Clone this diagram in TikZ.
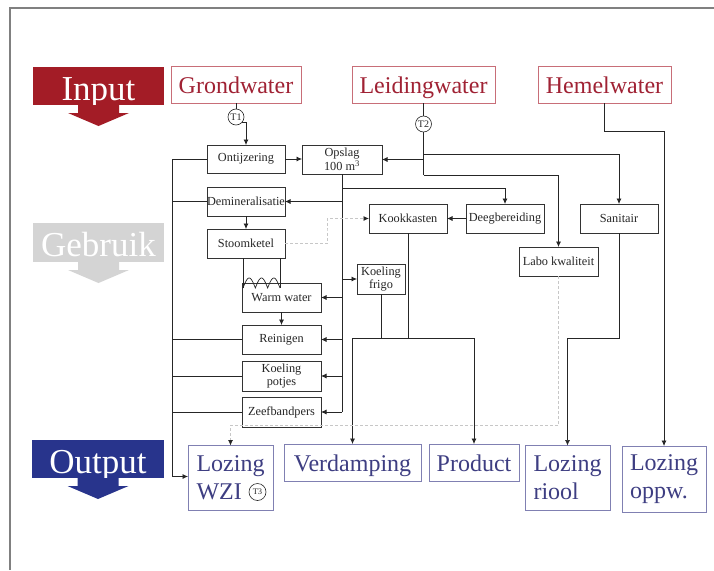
\documentclass[tikz,border=0pt]{standalone}
\usepackage{fontspec}
\setmainfont{Liberation Serif}
\usetikzlibrary{arrows.meta}

\definecolor{inred}{RGB}{163,28,38}
\definecolor{intext}{RGB}{160,34,52}
\definecolor{inborder}{RGB}{200,110,120}
\definecolor{usegrey}{RGB}{212,212,212}
\definecolor{outblue}{RGB}{40,52,140}
\definecolor{outtext}{RGB}{62,62,130}
\definecolor{outborder}{RGB}{128,128,178}
\definecolor{framegrey}{RGB}{128,128,128}

\tikzset{
  proc/.style={draw=black!80, line width=0.7pt, inner sep=0pt, outer sep=0pt,
    align=center, text=black!85, font=\fontsize{12.3}{13.5}\selectfont},
  inbox/.style={draw=inborder, line width=0.9pt, inner sep=0pt, outer sep=0pt,
    text=intext, font=\fontsize{24}{28}\selectfont,
    text height=18pt, text depth=1pt},
  outbox/.style={draw=outborder, line width=0.9pt, inner sep=0pt, outer sep=0pt,
    text=outtext, font=\fontsize{24}{28}\selectfont},
  onerow/.style={text height=18pt, text depth=1pt},
  banner/.style={inner sep=0pt, outer sep=0pt, text=white,
    font=\fontsize{35}{40}\selectfont, text height=30pt, text depth=2pt},
  flow/.style={draw=black!85, line width=0.7pt},
  arr/.style={flow, -{Latex[length=5.5pt,width=5pt]}},
  dsh/.style={draw=black!22, line width=0.8pt, dash pattern=on 3pt off 2pt,
    -{Latex[length=5.5pt,width=5pt,black!85]}},
  tag/.style={circle, draw=black!85, line width=0.6pt, inner sep=0pt,
    minimum size=16pt, text=black!85, font=\fontsize{10}{10}\selectfont},
  downarrow/.pic={\fill[#1] (-20.5,0) -- (20.5,0) -- (20.5,8) -- (30.5,8)
    -- (0,21) -- (-30.5,8) -- (-20.5,8) -- cycle;}
}

\begin{document}
\begin{tikzpicture}[x=1pt,y=-1pt]
\useasboundingbox (0,0) rectangle (714,570);
\fill[white] (0,0) rectangle (714,570);
\draw[framegrey, line width=1.2pt] (10,570) -- (10,8) -- (714,8);

% side banners
\node[banner, fill=inred, minimum width=131pt, minimum height=38pt] (bin) at (98.5,86) {Input};
\pic at (98.5,105) {downarrow=inred};
\node[banner, fill=usegrey, minimum width=131pt, minimum height=39pt] (buse) at (98.5,242.5) {Gebruik};
\pic at (98.5,262) {downarrow=usegrey};
\node[banner, fill=outblue, minimum width=132pt, minimum height=38pt] (bout) at (98,459) {Output};
\pic at (98,478) {downarrow=outblue};

% sources
\node[inbox, minimum width=130pt, minimum height=37pt] (grond) at (236,84.5) {Grondwater};
\node[inbox, minimum width=143pt, minimum height=37pt] (leid) at (423.5,84.5) {Leidingwater};
\node[inbox, minimum width=133pt, minimum height=37pt] (hemel) at (604.5,84.5) {Hemelwater};

% sampling points
\node[tag] (t1) at (236,117) {T1};
\node[tag] (t2) at (423.5,124) {T2};

% process steps
\node[proc, minimum width=78pt, minimum height=28pt] (ontij) at (246,159) {Ontijzering};
\node[proc, minimum width=80pt, minimum height=29pt] (opslag) at (342,159.5) {Opslag\\100 m\textsuperscript{3}};
\node[proc, minimum width=78pt, minimum height=29pt] (demin) at (246,201.5) {Demineralisatie};
\node[proc, minimum width=78pt, minimum height=29pt] (stoom) at (246,243.5) {Stoomketel};
\node[proc, minimum width=79pt, minimum height=29pt] (warm) at (281.5,297.5) {Warm water};
\node[proc, minimum width=79pt, minimum height=29pt] (reinig) at (281.5,339.5) {Reinigen};
\node[proc, minimum width=79pt, minimum height=30pt] (koelpot) at (281.5,376) {Koeling\\potjes};
\node[proc, minimum width=79pt, minimum height=30pt] (zeef) at (281.5,412) {Zeefbandpers};
\node[proc, minimum width=48pt, minimum height=30pt] (koelfrigo) at (381,279) {Koeling\\frigo};
\node[proc, minimum width=78pt, minimum height=29pt] (kook) at (408,218.5) {Kookkasten};
\node[proc, minimum width=78pt, minimum height=29pt] (deeg) at (505,218.5) {Deegbereiding};
\node[proc, minimum width=78pt, minimum height=29pt] (sanit) at (619,218.5) {Sanitair};
\node[proc, minimum width=79pt, minimum height=29pt] (labo) at (558.5,261.5) {Labo kwaliteit};

% destinations
\node[outbox, minimum width=85pt, minimum height=65pt, align=left] (wzi) at (230.5,478) {Lozing\\WZI\hspace{26pt}};
\node[tag, minimum size=17pt, font=\fontsize{8.5}{9}\selectfont] (t3) at (257.5,492) {T3};
\node[outbox, onerow, minimum width=137pt, minimum height=37pt] (verd) at (352.5,462.5) {Verdamping};
\node[outbox, onerow, minimum width=90pt, minimum height=37pt] (prod) at (474,462.5) {Product};
\node[outbox, minimum width=85pt, minimum height=65pt, align=left] (riool) at (567.5,478) {Lozing\\riool\hspace{29pt}};
\node[outbox, minimum width=84pt, minimum height=66pt, align=left] (oppw) at (664,479) {Lozing\\oppw.\hspace{14pt}};

% junctions
\coordinate (colL) at (172,159);
\coordinate (colLb) at (172,476.5);
\coordinate (jdeeg) at (342,188);
\coordinate (jt2s) at (423.5,154);
\coordinate (jt2a) at (423.5,159.5);
\coordinate (jt2b) at (423.5,175);
\coordinate (jh) at (664,131);
\coordinate (jsr) at (567.5,338);
\coordinate (jkL) at (352.5,338);
\coordinate (jkR) at (474,338);
\coordinate (dj) at (327,230);
\coordinate (jw) at (230.5,425);
\coordinate (coilL) at (243,288);
\coordinate (coilR) at (280,288);

% ground water line
\draw[flow] (grond) -- (t1);
\draw[arr] (t1.-40) -| (ontij.north);
\draw[arr] (ontij.east) -- (ontij.east -| opslag.west);

% collection line on the left towards the WZI
\draw[arr] (ontij.west) -- (colL) -- (colLb) -- (colLb -| wzi.west);
\foreach \n in {demin,reinig,koelpot,zeef}
  \draw[flow] (\n.west) -- (\n.west -| colL);

% distribution from the storage tank
\draw[flow] (opslag.south) -- (opslag.south |- zeef.east);
\foreach \n in {demin,warm,reinig,koelpot,zeef}
  \draw[arr] (opslag.south |- \n.east) -- (\n.east);
\draw[arr] (opslag.south |- koelfrigo.west) -- (koelfrigo.west);
\draw[arr] (jdeeg) -| (deeg.north);

% steam and hot water
\draw[arr] (demin.south) -- (stoom.north);
\draw[flow] (coilL |- stoom.south) -- (coilL);
\draw[flow] (coilR |- stoom.south) -- (coilR);
\draw[flow] plot[domain=0:3, samples=61] ({243+12.333*\x},{288-10*abs(sin(180*\x))});
\draw[arr] (warm.south) -- (reinig.north);
\draw[dsh] (stoom.east) -| (dj) |- (kook.west);
\draw[arr] (deeg.west) -- (kook.east);

% mains water
\draw[flow] (leid) -- (t2);
\draw[flow] (t2.south) -- (jt2b);
\draw[arr] (jt2a) -- (opslag.east);
\draw[arr] (jt2s) -| (sanit.north);
\draw[arr] (jt2b) -| (labo.north);

% rain water
\draw[arr] (hemel.south) |- (jh) -- (oppw.north);

% outflows
\draw[arr] (sanit.south) |- (jsr) -- (riool.north);
\draw[flow] (kook.south) -- (kook.south |- jkL);
\draw[flow] (koelfrigo.south) -- (koelfrigo.south |- jkL);
\draw[flow] (jkL) -- (jkR);
\draw[arr] (jkL) -- (verd.north);
\draw[arr] (jkR) -- (prod.north);
\draw[dsh] (labo.south) |- (jw) -- (wzi.north);
\end{tikzpicture}
\end{document}
